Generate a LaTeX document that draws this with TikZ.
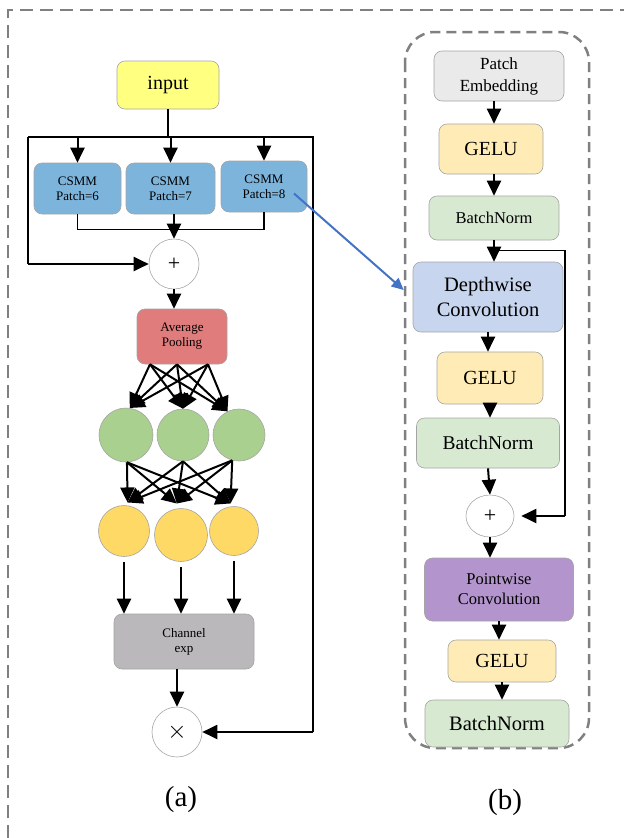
\documentclass[tikz,border=0pt]{standalone}
\usepackage{fontspec}
\setmainfont{Liberation Serif}
\usetikzlibrary{arrows.meta,calc,shapes.geometric}
\definecolor{frameg}{RGB}{128,128,128}
\definecolor{boxline}{RGB}{165,165,165}
\definecolor{inyel}{RGB}{255,255,128}
\definecolor{csmm}{RGB}{125,180,220}
\definecolor{poolc}{RGB}{224,124,124}
\definecolor{greenc}{RGB}{169,208,142}
\definecolor{yellc}{RGB}{255,217,102}
\definecolor{chanc}{RGB}{186,184,186}
\definecolor{patchc}{RGB}{234,234,234}
\definecolor{geluc}{RGB}{255,235,181}
\definecolor{bnc}{RGB}{216,233,210}
\definecolor{dwc}{RGB}{199,214,238}
\definecolor{pwc}{RGB}{179,148,204}
\definecolor{bluearr}{RGB}{68,114,196}
\begin{document}
\begin{tikzpicture}[x=1pt,y=-1pt,
  box/.style={draw=boxline, line width=0.6pt, rounded corners=8pt, align=center, inner sep=0pt},
  ball/.style={circle, draw=boxline, line width=0.6pt, inner sep=0pt},
  arr/.style={-{Triangle[length=15pt,width=14pt]}, line width=2pt},
  thinl/.style={line width=1.2pt},
  fA/.style={font=\fontsize{13}{15}\selectfont},
  fB/.style={font=\fontsize{20}{25}\selectfont}
]
\useasboundingbox (0,0) rectangle (624,838);

% outer frame (only top and left edges fall inside the page)
\draw[frameg, line width=2.5pt, dash pattern=on 13pt off 7pt] (8,838) -- (8,10) -- (624,10);

% ---------------- left branch ----------------
\node[box, fill=inyel, minimum width=102pt, minimum height=48pt, font=\fontsize{20}{24}\selectfont] (in) at (168,85) {input};

\node[box, fill=csmm, minimum width=87pt, minimum height=51pt, fA] (c1) at (77.5,188.5) {CSMM\\Patch=6};
\node[box, fill=csmm, minimum width=89pt, minimum height=51pt, fA] (c2) at (170.5,188.5) {CSMM\\Patch=7};
\node[box, fill=csmm, minimum width=86pt, minimum height=51pt, fA] (c3) at (264,186.5) {CSMM\\Patch=8};

\node[ball, minimum size=50pt, font=\fontsize{22}{24}\selectfont] (plus) at (174,264) {+};
\node[box, fill=poolc, minimum width=90pt, minimum height=55pt, fA] (pool) at (182,336.5) {Average\\Pooling};

\node[ball, fill=greenc, minimum size=54pt] (g1) at (126,435) {};
\node[ball, fill=greenc, minimum size=52pt] (g2) at (183,435) {};
\node[ball, fill=greenc, minimum size=52pt] (g3) at (239,435) {};

\node[ball, fill=yellc, minimum size=51pt] (y1) at (124,531) {};
\node[ball, fill=yellc, minimum size=53pt] (y2) at (181,535) {};
\node[ball, fill=yellc, minimum size=49pt] (y3) at (234,531) {};

\node[box, fill=chanc, minimum width=140pt, minimum height=55pt, fA] (chan) at (184,641.5) {Channel\\exp};
\node[ball, minimum size=50pt, font=\fontsize{26}{28}\selectfont] (mult) at (177,732) {$\times$};

\coordinate (hl) at (28,137);
\coordinate (hr) at (313,137);

\draw[thinl] (in.south) -- (in.south |- hl);
\draw[thinl] (hl) -- (hr) -- (hr |- mult.east);
\draw[arr] (hr |- mult.east) -- (mult.east);
\draw[line width=2pt] (hl) -- (hl |- plus.west);
\draw[arr] (hl |- plus.west) -- (plus.west);

\foreach \c in {c1,c2,c3} \draw[arr] (\c.north |- hl) -- (\c.north);

\draw[thinl] (c1.south) -- ++(0,15) -| (c3.south);
\draw[arr] (plus.north |- c2.south) -- (plus.north);
\draw[arr] (plus.south) -- (plus.south |- pool.north);

% pooling to first layer
\coordinate (p1) at ([xshift=-32pt]pool.south);
\coordinate (p2) at ([xshift=-5pt]pool.south);
\coordinate (p3) at ([xshift=26pt]pool.south);
\coordinate (t1) at (g1.82);
\coordinate (t2) at (g2.north);
\coordinate (t3) at (g3.116);
\foreach \s in {p1,p2,p3}
  \foreach \t in {t1,t2,t3}
    \draw[arr] (\s) -- (\t);

% first layer to second layer
\coordinate (q1) at (g1.272);
\coordinate (q2) at (g2.south);
\coordinate (q3) at (g3.255);
\coordinate (u1) at ([yshift=3pt]y1.82);
\coordinate (u2) at ([yshift=5pt]y2.99);
\coordinate (u3) at ([yshift=3pt]y3.98);
\foreach \s in {q1,q2,q3}
  \foreach \t in {u1,u2,u3}
    \draw[arr] (\s) -- (\t);

\foreach \y in {y1,y2,y3}
  \draw[arr, shorten <=5pt] (\y.south) -- (\y.south |- chan.north);

\draw[arr] (mult.north |- chan.south) -- (mult.north);

\node[font=\fontsize{29}{31}\selectfont] (la) at (181,800) {(a)};

% ---------------- right panel ----------------
\draw[frameg, line width=2.5pt, dash pattern=on 10pt off 6pt, rounded corners=30pt] (405,32) rectangle (589,748);

\node[box, fill=patchc, minimum width=130pt, minimum height=50pt, font=\fontsize{17}{22}\selectfont] (patch) at (499,76) {Patch\\Embedding};
\node[box, fill=geluc, minimum width=104pt, minimum height=50pt, fB] (gelu1) at (491,149) {GELU};
\node[box, fill=bnc, minimum width=130pt, minimum height=44pt, font=\fontsize{16.5}{20}\selectfont] (bn1) at (494,218) {BatchNorm};
\node[box, fill=dwc, minimum width=150pt, minimum height=70pt, font=\fontsize{20.5}{25}\selectfont] (dw) at (488,297) {Depthwise\\Convolution};
\node[box, fill=geluc, minimum width=106pt, minimum height=52pt, fB] (gelu2) at (490,378) {GELU};
\node[box, fill=bnc, minimum width=143pt, minimum height=50pt, font=\fontsize{19.5}{22}\selectfont] (bn2) at (488,443) {BatchNorm};
\node[ellipse, draw=boxline, line width=0.6pt, minimum width=48pt, minimum height=42pt, inner sep=0pt, font=\fontsize{22}{24}\selectfont] (rplus) at (490,516) {+};
\node[box, fill=pwc, minimum width=149pt, minimum height=63pt, font=\fontsize{16.5}{20}\selectfont] (pw) at (499,589.5) {Pointwise\\Convolution};
\node[box, fill=geluc, minimum width=108pt, minimum height=42pt, fB] (gelu3) at (502,661) {GELU};
\node[box, fill=bnc, minimum width=144pt, minimum height=47pt, font=\fontsize{20.5}{23}\selectfont] (bn3) at (497,723.5) {BatchNorm};

\draw[arr] ([xshift=3pt]patch.south -| gelu1.north) -- ([xshift=3pt]gelu1.north);
\draw[arr] ([xshift=3pt]gelu1.south) -- ([xshift=3pt]gelu1.south |- bn1.north);
\draw[arr] (bn1.south) -- (bn1.south |- dw.north);
\coordinate (sk) at ($(bn1.south)+(0,10)$);
\coordinate (skr) at (565,0);
\draw[thinl] (sk) -- (sk -| skr) -- (skr |- rplus.east);
\draw[arr, shorten >=7pt] (skr |- rplus.east) -- (rplus.east);
\draw[arr] (dw.south) -- (dw.south |- gelu2.north);
\draw[arr] (gelu2.south) -- (gelu2.south |- bn2.north);
\draw[arr] (bn2.south) -- (rplus.north);
\draw[arr] (rplus.south) -- (rplus.south |- pw.north);
\draw[arr] (pw.south) -- (pw.south |- gelu3.north);
\draw[arr] (gelu3.south) -- (gelu3.south |- bn3.north);

% link from the third branch to the detail panel
\draw[bluearr, line width=2pt, -{Triangle[length=12pt,width=11pt]}]
  ([shift={(30,7)}]c3.center) -- ([shift={(-9,-7)}]dw.west);

\node[font=\fontsize{29}{31}\selectfont] (lb) at (505,803) {(b)};
\end{tikzpicture}
\end{document}
